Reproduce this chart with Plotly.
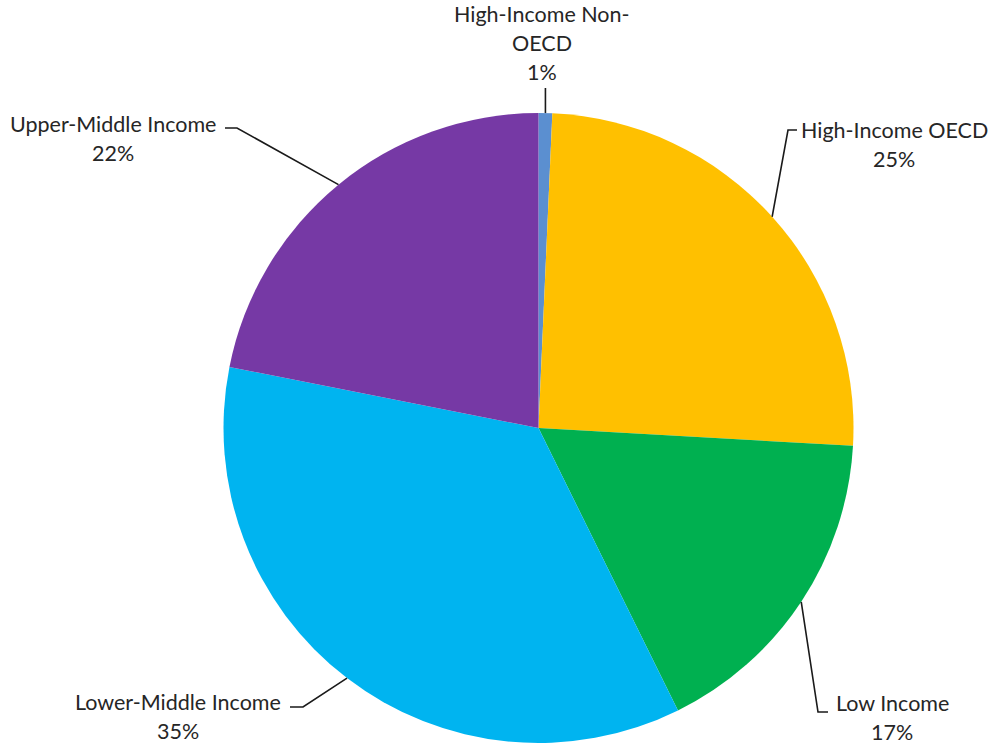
import math
import plotly.graph_objects as go

# ---- data ----
categories = ["High-Income Non-OECD", "High-Income OECD", "Low Income",
              "Lower-Middle Income", "Upper-Middle Income"]
shares = [0.7, 25.2, 16.8, 35.4, 21.9]
label_lines = [["High-Income Non-", "OECD"], ["High-Income OECD"], ["Low Income"],
               ["Lower-Middle Income"], ["Upper-Middle Income"]]
colors = ["#5B8FD0", "#FFC000", "#00B050", "#00B4F0", "#7639A5"]

# ---- layout (pixels) ----
W, H = 988, 747
CX, CY, R = 538.5, 428.0, 315.0
FONT = "Lato"
FS = 21.5
LINE_H = 29
# per slice: elbow point, horizontal end point, text block center x, first text line y
label_layout = [
    dict(elbow=None, end=(545, 88), tx=542, ty=14),
    dict(elbow=(788, 130), end=(797, 130), tx=894, ty=130),
    dict(elbow=(818, 712), end=(828, 712), tx=892, ty=703),
    dict(elbow=(303, 707), end=(290, 707), tx=178, ty=702),
    dict(elbow=(237, 128), end=(225, 128), tx=113, ty=124),
]


def px(x):
    return x / W


def py(y):
    return 1 - y / H


fig = go.Figure(go.Pie(
    labels=categories, values=shares, sort=False, direction="clockwise",
    rotation=0, textinfo="none", hoverinfo="label+percent",
    marker=dict(colors=colors, line=dict(width=0)),
    domain=dict(x=[px(CX - R), px(CX + R)], y=[py(CY + R), py(CY - R)]),
    showlegend=False,
))

total = sum(shares)
cum = 0.0
annotations = []
shapes = []
for cat, v, lines, lay in zip(categories, shares, label_lines, label_layout):
    theta = 2 * math.pi * (cum + v / 2) / total
    cum += v
    ex = CX + R * math.sin(theta)
    ey = CY - R * math.cos(theta)
    pts = [(ex, ey)]
    if lay["elbow"] is not None:
        pts.append(lay["elbow"])
        pts.append(lay["end"])
    else:
        pts.append((ex, lay["end"][1]))
    path = "M " + " L ".join(f"{px(x):.5f},{py(y):.5f}" for x, y in pts)
    shapes.append(dict(type="path", path=path, xref="paper", yref="paper",
                       line=dict(color="#1a1a1a", width=1.6)))
    pct = f"{round(100 * v / total):d}%"
    for i, t in enumerate(lines + [pct]):
        annotations.append(dict(
            x=px(lay["tx"]), y=py(lay["ty"] + i * LINE_H), xref="paper", yref="paper",
            text=t, showarrow=False, xanchor="center", yanchor="middle",
            font=dict(family=FONT, size=FS, color="#262626")))

fig.update_layout(
    width=W, height=H, margin=dict(l=0, r=0, t=0, b=0),
    paper_bgcolor="white", plot_bgcolor="white",
    annotations=annotations, shapes=shapes,
)

fig.write_html("out.html", config={"displayModeBar": False},
               post_script="document.body.style.margin='0';")
